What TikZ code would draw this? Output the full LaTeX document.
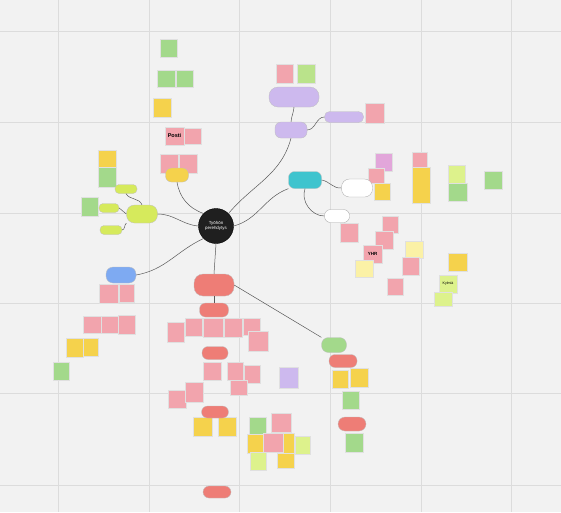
\documentclass[tikz,border=0pt]{standalone}
\usepackage{fontspec}
\setmainfont{Liberation Sans}
\usetikzlibrary{positioning, calc}
\definecolor{board}{HTML}{F2F2F2}
\definecolor{gridln}{HTML}{DCDCDC}
\definecolor{stpink}{HTML}{F2A4AD}
\definecolor{stsalmon}{HTML}{EE7D76}
\definecolor{styellow}{HTML}{F5D24C}
\definecolor{stlyellow}{HTML}{FBF1A6}
\definecolor{stgreen}{HTML}{A3D98B}
\definecolor{stlgreen}{HTML}{DDF28C}
\definecolor{stlime}{HTML}{D6EA5C}
\definecolor{stpurple}{HTML}{CDB9EE}
\definecolor{stmagenta}{HTML}{E2A6DA}
\definecolor{stteal}{HTML}{3FC4CE}
\definecolor{stblue}{HTML}{7EAAF2}
\tikzset{
  note/.style={inner sep=0pt, draw=black!12, line width=0.3pt, font=\fontsize{3}{3.5}\selectfont},
  pnote/.style={note, fill=stpink},
  ynote/.style={note, fill=styellow},
  lynote/.style={note, fill=stlyellow},
  gnote/.style={note, fill=stgreen},
  lgnote/.style={note, fill=stlgreen},
  mnote/.style={note, fill=stmagenta},
  vnote/.style={note, fill=stpurple},
  topic/.style={rounded corners=6pt, inner sep=0pt, draw=black!25, line width=0.3pt},
  link/.style={draw=black!65, line width=0.5pt}
}
\begin{document}
\begin{tikzpicture}[x=1pt, y=-1pt]
  \fill[board] (0,0) rectangle (561,512);
  \useasboundingbox (0,0) rectangle (561,512);
  \foreach \gx in {58,149,239,330,421,511}
    \draw[gridln, line width=0.6pt] (\gx,0) -- (\gx,512);
  \foreach \gy in {31,122,213,303,393,485}
    \draw[gridln, line width=0.6pt] (0,\gy) -- (561,\gy);

  % sticky notes
  \node[pnote, minimum width=17pt, minimum height=19pt] (p1) at (284.5,73.5) {};
  \node[lgnote, minimum width=18pt, minimum height=19pt, fill=stgreen!60!stlgreen] (g4) at (306,73.5) {};
  \node[pnote, minimum width=19pt, minimum height=20pt] (p2) at (374.5,113) {};
  \node[gnote, minimum width=17pt, minimum height=18pt] (g1) at (168.5,48) {};
  \node[gnote, minimum width=18pt, minimum height=17pt] (g2) at (166,78.5) {};
  \node[gnote, minimum width=17pt, minimum height=17pt] (g3) at (184.5,78.5) {};
  \node[ynote, minimum width=18pt, minimum height=19pt] (y2) at (162,107.5) {};
  \node[pnote, minimum width=19pt, minimum height=18pt, font=\bfseries\fontsize{5.5}{6}\selectfont] (posti) at (174.5,136) {Posti};
  \node[pnote, minimum width=17pt, minimum height=16pt] (p11) at (192.5,136) {};
  \node[pnote, minimum width=18pt, minimum height=19pt] (p12) at (169,163.5) {};
  \node[pnote, minimum width=18pt, minimum height=19pt] (p13) at (188,163.5) {};
  \node[ynote, minimum width=18pt, minimum height=18pt] (y1) at (107,159) {};
  \node[gnote, minimum width=18pt, minimum height=20pt] (g5) at (107,177) {};
  \node[gnote, minimum width=17pt, minimum height=19pt] (g6) at (89.5,206.5) {};

  \node[mnote, minimum width=17pt, minimum height=18pt] (m1) at (383.5,162) {};
  \node[pnote, minimum width=16pt, minimum height=15pt] (p3) at (376,175.5) {};
  \node[ynote, minimum width=16pt, minimum height=17pt] (y3) at (382,191.5) {};
  \node[ynote, minimum width=18pt, minimum height=36pt] (y4) at (421,185) {};
  \node[pnote, minimum width=15pt, minimum height=15pt] (p4) at (419.5,159.5) {};
  \node[lgnote, minimum width=17pt, minimum height=18pt] (lg1) at (456.5,174) {};
  \node[gnote, minimum width=19pt, minimum height=18pt] (g7) at (457.5,192) {};
  \node[gnote, minimum width=18pt, minimum height=18pt] (g8) at (493,180) {};

  \node[pnote, minimum width=18pt, minimum height=19pt] (p5) at (349,232.5) {};
  \node[pnote, minimum width=16pt, minimum height=17pt] (p6) at (390,224.5) {};
  \node[pnote, minimum width=18pt, minimum height=18pt] (p7) at (384,240) {};
  \node[pnote, minimum width=19pt, minimum height=18pt, font=\bfseries\fontsize{4.5}{5}\selectfont] (yhr) at (372.5,254) {YHR};
  \node[lynote, minimum width=18pt, minimum height=17pt] (ly1) at (364,268.5) {};
  \node[lynote, minimum width=18pt, minimum height=17pt] (ly2) at (414,249.5) {};
  \node[pnote, minimum width=17pt, minimum height=18pt] (p9) at (410.5,266) {};
  \node[pnote, minimum width=16pt, minimum height=17pt] (p10) at (395,286.5) {};
  \node[ynote, minimum width=19pt, minimum height=18pt] (y5) at (457.5,262) {};
  \node[lgnote, minimum width=18pt, minimum height=18pt, font=\fontsize{3.6}{4}\selectfont] (kylmia) at (448,284) {Kylmiä};
  \node[lgnote, minimum width=18pt, minimum height=14pt] (lg3) at (443,299) {};

  \node[pnote, minimum width=19pt, minimum height=19pt] (p14) at (108.5,293.5) {};
  \node[pnote, minimum width=15pt, minimum height=18pt] (p15) at (126.5,293) {};
  \node[pnote, minimum width=18pt, minimum height=17pt] (p16) at (92,324.5) {};
  \node[pnote, minimum width=17pt, minimum height=17pt] (p17) at (109.5,324.5) {};
  \node[pnote, minimum width=17pt, minimum height=19pt] (p18) at (126.5,324.5) {};
  \node[ynote, minimum width=17pt, minimum height=19pt] (y6) at (74.5,347.5) {};
  \node[ynote, minimum width=15pt, minimum height=18pt] (y7) at (90.5,347) {};
  \node[gnote, minimum width=16pt, minimum height=18pt] (g9) at (61,371) {};

  \node[pnote, minimum width=17pt, minimum height=20pt] (p19) at (175.5,332) {};
  \node[pnote, minimum width=17pt, minimum height=18pt] (p20) at (193.5,327) {};
  \node[pnote, minimum width=20pt, minimum height=19pt] (p21) at (213,327.5) {};
  \node[pnote, minimum width=18pt, minimum height=19pt] (p22) at (233,327.5) {};
  \node[pnote, minimum width=17pt, minimum height=17pt] (p23) at (251.5,326.5) {};
  \node[pnote, minimum width=20pt, minimum height=20pt] (p24) at (258,341) {};

  \node[pnote, minimum width=18pt, minimum height=18pt] (p25) at (212,371) {};
  \node[pnote, minimum width=16pt, minimum height=18pt] (p26) at (235,371) {};
  \node[pnote, minimum width=16pt, minimum height=18pt] (p27) at (252,374) {};
  \node[pnote, minimum width=17pt, minimum height=15pt] (p28) at (238.5,387.5) {};
  \node[pnote, minimum width=18pt, minimum height=18pt] (p30) at (177,399) {};
  \node[pnote, minimum width=18pt, minimum height=20pt] (p29) at (194,392) {};
  \node[vnote, minimum width=19pt, minimum height=21pt] (v1) at (288.5,377.5) {};

  \node[ynote, minimum width=19pt, minimum height=19pt] (y10) at (202.5,426.5) {};
  \node[ynote, minimum width=18pt, minimum height=19pt] (y11) at (227,426.5) {};
  \node[gnote, minimum width=17pt, minimum height=18pt] (g12) at (257.5,426) {};
  \node[pnote, minimum width=20pt, minimum height=19pt] (p31) at (281,422.5) {};
  \node[ynote, minimum width=16pt, minimum height=19pt] (y12) at (255,443.5) {};
  \node[ynote, minimum width=13pt, minimum height=20pt] (y13) at (287.5,443) {};
  \node[lgnote, minimum width=15pt, minimum height=18pt] (lg4) at (302.5,445) {};
  \node[pnote, minimum width=20pt, minimum height=19pt] (p32) at (273,442.5) {};
  \node[lgnote, minimum width=16pt, minimum height=18pt] (lg5) at (258,461) {};
  \node[ynote, minimum width=17pt, minimum height=15pt] (y14) at (285.5,460.5) {};

  \node[ynote, minimum width=16pt, minimum height=18pt] (y8) at (340,379) {};
  \node[ynote, minimum width=18pt, minimum height=19pt] (y9) at (359,377.5) {};
  \node[gnote, minimum width=17pt, minimum height=18pt] (g10) at (350.5,400) {};
  \node[gnote, minimum width=18pt, minimum height=19pt] (g11) at (354,442.5) {};

  % main topics
  \node[circle, fill=black!88, draw=black, minimum size=35pt, inner sep=0pt, align=center,
        text=white, font=\fontsize{4.4}{5.4}\selectfont] (tyo) at (216,226) {Työhön\\perehdytys};
  \node[topic, fill=stpurple, minimum width=32pt, minimum height=16pt] (purA) at (291,130) {};
  \node[topic, fill=stpurple, minimum width=50pt, minimum height=20pt, rounded corners=9pt] (purBig) at (294,97) {};
  \node[topic, fill=stpurple, minimum width=39pt, minimum height=11pt, rounded corners=5pt] (purSide) at (344,117) {};
  \node[topic, fill=stteal, minimum width=33pt, minimum height=17pt] (teal) at (305,180) {};
  \node[topic, fill=white, draw=black!35, minimum width=31pt, minimum height=18pt, rounded corners=8pt] (white1) at (357,188) {};
  \node[topic, fill=white, draw=black!35, minimum width=25pt, minimum height=13pt] (white2) at (337,216) {};
  \node[topic, fill=stlime, minimum width=31pt, minimum height=18pt, rounded corners=8pt] (lime) at (142,214) {};
  \node[topic, fill=stlime, minimum width=22pt, minimum height=9pt, rounded corners=4pt] (limeA) at (126,189) {};
  \node[topic, fill=stlime, minimum width=20pt, minimum height=9pt, rounded corners=4pt] (limeB) at (109,208) {};
  \node[topic, fill=stlime, minimum width=22pt, minimum height=9pt, rounded corners=4pt] (limeC) at (111,230) {};
  \node[topic, fill=styellow, minimum width=23pt, minimum height=14pt] (yel) at (177,175) {};
  \node[topic, fill=stblue, minimum width=30pt, minimum height=16pt, rounded corners=7pt] (blue) at (121,275) {};
  \node[topic, fill=stsalmon, minimum width=40pt, minimum height=22pt, rounded corners=9pt] (salMain) at (214,285) {};
  \node[topic, fill=stsalmon, minimum width=29pt, minimum height=14pt] (salB) at (214,310) {};
  \node[topic, fill=stsalmon, minimum width=26pt, minimum height=13pt] (salC) at (215,353) {};
  \node[topic, fill=stsalmon, minimum width=27pt, minimum height=12pt] (salD) at (215,412) {};
  \node[topic, fill=stsalmon, minimum width=28pt, minimum height=12pt] (salE) at (217,492) {};
  \node[topic, fill=stgreen, minimum width=25pt, minimum height=15pt, rounded corners=7pt] (grn) at (334,345) {};
  \node[topic, fill=stsalmon, minimum width=28pt, minimum height=13pt] (salF) at (343,361) {};
  \node[topic, fill=stsalmon, minimum width=28pt, minimum height=14pt, rounded corners=7pt] (salG) at (352,424) {};

  % connectors
  \draw[link] (tyo.north east) to[out=50, in=-105] (purA.south);
  \draw[link] (purA.north) to[out=85, in=-95] (purBig.south);
  \draw[link] (purA.east) to[out=0, in=180] (purSide.west);
  \draw[link] (tyo.east) to[out=15, in=200] (teal.south west);
  \draw[link] (teal.east) to[out=-10, in=185] (white1.west);
  \draw[link] (teal.south) to[out=-110, in=180] (white2.west);
  \draw[link] (tyo.west) to[out=175, in=0] (lime.east);
  \draw[link] (lime.north) to[out=110, in=-60] (limeA.south);
  \draw[link] (lime.west) -- (limeB.east);
  \draw[link] (lime.south west) to[out=-140, in=10] (limeC.east);
  \draw[link] (yel.south) to[out=-80, in=160] (tyo.north west);
  \draw[link] (tyo.south west) to[out=205, in=10] (blue.east);
  \draw[link] (tyo.south) -- (salMain.north);
  \draw[link] (salMain.south) -- (salB.north);
  \draw[link] (salMain.east) -- (grn.north west);
\end{tikzpicture}
\end{document}
